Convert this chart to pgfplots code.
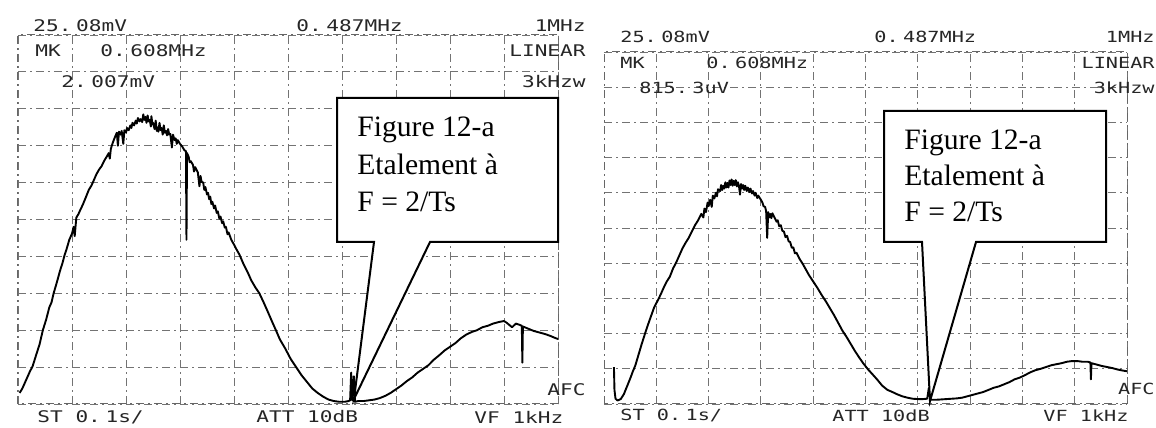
\documentclass[border=0pt]{standalone}
\usepackage{fontspec}
\usepackage{pgfplots}
\pgfplotsset{compat=1.18}
\setmainfont{Liberation Serif}
\newfontfamily\scopefont{DejaVu Sans Mono}
\newcommand\st[1]{\scalebox{1}[0.76]{#1}}
\newcommand\g{\hspace{0.22em}}
\pgfplotsset{
  scopegrid/.style={
    scale only axis, xmin=0, xmax=10, ymin=0, ymax=10,
    xtick={0,...,10}, ytick={0,...,10},
    xticklabels={}, yticklabels={},
    major tick length=0pt,
    grid=major,
    grid style={black!55, line width=0.45pt, dash pattern=on 4pt off 2pt on 1pt off 2pt},
    axis line style={black!60, line width=0.5pt, dash pattern=on 4pt off 2pt on 1pt off 2pt},
    clip=false,
  },
  trace/.style={black, line width=0.95pt, line join=round, mark=none},
}
\begin{document}
\begin{tikzpicture}
\useasboundingbox (0,0) rectangle (578pt,214pt);
% ---------------- left screen ----------------
\begin{axis}[scopegrid, at={(9pt,12pt)}, anchor=south west, width=270pt, height=184.5pt]
\addplot[trace] coordinates {
(0.03,0.30)(0.08,0.42)(0.15,0.65)(0.22,0.88)(0.27,1.02)(0.33,1.30)(0.40,1.62)(0.46,2.00)
(0.52,2.28)(0.58,2.62)(0.62,2.75)(0.66,3.00)(0.72,3.30)(0.78,3.62)(0.82,3.80)(0.86,4.02)
(0.90,4.20)(0.95,4.45)(1.00,4.62)(1.03,4.80)(1.05,4.55)(1.08,5.05)(1.12,5.15)(1.16,5.28)
(1.20,5.40)(1.25,5.58)(1.31,5.80)(1.36,5.92)(1.40,6.05)(1.45,6.22)(1.50,6.35)(1.55,6.45)
(1.60,6.60)(1.65,6.72)(1.68,6.80)(1.70,6.65)(1.72,6.92)(1.76,7.10)(1.80,7.25)(1.83,7.35)
(1.85,7.00)(1.87,7.38)(1.90,7.30)(1.92,7.40)(1.95,7.05)(1.97,7.42)(2.00,7.36)(2.02,7.48)
(2.05,7.42)(2.08,7.55)(2.10,7.48)(2.12,7.62)(2.15,7.55)(2.18,7.68)(2.20,7.60)(2.22,7.75)
(2.25,7.66)(2.27,7.72)(2.30,7.64)(2.32,7.85)(2.34,7.70)(2.36,7.78)(2.38,7.62)(2.40,7.82)
(2.42,7.66)(2.44,7.70)(2.46,7.52)(2.47,7.80)(2.49,7.58)(2.50,7.62)(2.53,7.45)(2.55,7.68)
(2.57,7.40)(2.58,7.50)(2.60,7.38)(2.62,7.62)(2.64,7.42)(2.66,7.48)(2.68,7.30)(2.70,7.55)
(2.72,7.35)(2.74,7.40)(2.76,7.28)(2.78,7.45)(2.80,7.30)(2.82,7.32)(2.85,6.95)(2.87,7.30)
(2.90,7.15)(2.92,7.20)(2.94,7.05)(2.96,7.15)(3.00,7.05)(3.04,6.98)(3.08,6.88)
(3.11,6.85)(3.12,4.45)(3.13,6.80)(3.16,6.70)(3.18,6.55)(3.20,6.58)(3.24,6.48)(3.26,6.30)
(3.28,6.42)(3.33,6.28)(3.36,5.90)(3.38,6.18)(3.40,6.02)(3.43,6.00)(3.45,5.80)(3.47,5.88)
(3.50,5.68)(3.52,5.72)(3.54,5.55)(3.56,5.62)(3.58,5.42)(3.60,5.48)(3.63,5.30)(3.65,5.38)
(3.68,5.18)(3.70,5.22)(3.73,5.02)(3.75,5.08)(3.78,4.90)(3.80,4.95)(3.83,4.78)(3.85,4.80)
(3.88,4.60)(3.90,4.65)(3.95,4.45)(4.00,4.32)(4.05,4.18)
(4.10,4.05)(4.18,3.78)(4.25,3.58)(4.32,3.35)(4.40,3.15)(4.47,3.00)(4.55,2.75)(4.62,2.52)
(4.70,2.25)(4.77,2.02)(4.85,1.75)(4.95,1.50)(5.05,1.22)(5.15,1.00)(5.25,0.78)(5.35,0.60)
(5.45,0.42)(5.55,0.30)(5.65,0.20)(5.75,0.12)(5.85,0.08)(5.95,0.06)(6.05,0.06)(6.12,0.08)
(6.15,0.10)(6.17,0.85)(6.19,0.10)(6.22,0.75)(6.24,0.06)(6.30,0.08)(6.40,0.08)(6.50,0.10)
(6.60,0.12)(6.70,0.16)(6.80,0.22)(6.90,0.30)(7.00,0.40)(7.10,0.50)(7.20,0.62)(7.30,0.72)
(7.40,0.85)(7.50,0.95)(7.60,1.05)(7.70,1.20)(7.80,1.32)(7.90,1.45)(8.00,1.55)(8.10,1.65)
(8.20,1.78)(8.30,1.88)(8.40,1.95)(8.50,2.00)(8.60,2.08)(8.70,2.12)(8.80,2.18)(8.90,2.22)
(9.00,2.25)(9.05,2.20)(9.10,2.14)(9.15,2.08)(9.22,2.18)(9.28,2.15)(9.33,2.12)(9.34,1.12)
(9.35,2.10)(9.45,2.04)(9.55,1.98)(9.65,1.94)(9.75,1.90)(9.85,1.85)(9.93,1.80)(10.0,1.76)
};
\end{axis}
% ---------------- right screen ----------------
\begin{axis}[scopegrid, at={(302pt,12pt)}, anchor=south west, width=261.5pt, height=176pt]
\addplot[trace] coordinates {
(0.19,1.05)(0.20,0.40)(0.22,0.15)(0.26,0.10)(0.32,0.14)(0.38,0.28)(0.44,0.50)(0.50,0.72)
(0.55,0.92)(0.60,1.10)(0.66,1.40)(0.72,1.70)(0.78,1.98)(0.84,2.25)(0.90,2.50)(0.96,2.75)
(1.02,2.92)(1.08,3.10)(1.14,3.30)(1.20,3.48)(1.26,3.62)(1.32,3.85)(1.38,4.02)(1.44,4.22)
(1.50,4.42)(1.56,4.58)(1.62,4.72)(1.68,4.90)(1.74,5.08)(1.80,5.22)(1.86,5.40)(1.90,5.30)
(1.92,5.55)(1.95,5.45)(1.98,5.72)(2.00,5.62)(2.03,5.80)(2.06,5.60)(2.08,5.92)(2.11,5.84)
(2.14,6.00)(2.16,5.90)(2.18,6.10)(2.22,6.05)(2.24,6.22)(2.26,6.08)(2.28,6.20)(2.30,6.12)
(2.32,6.30)(2.34,6.15)(2.36,6.28)(2.38,6.15)(2.40,6.35)(2.42,6.22)(2.44,6.38)(2.46,6.20)
(2.48,6.34)(2.50,6.22)(2.52,6.36)(2.54,6.18)(2.56,6.30)(2.58,6.20)(2.60,5.95)(2.62,6.25)
(2.64,6.12)(2.66,6.22)(2.68,6.08)(2.70,6.20)(2.73,6.05)(2.75,6.15)(2.78,6.02)(2.80,6.12)
(2.83,5.98)(2.85,6.05)(2.88,5.92)(2.90,6.00)(2.93,5.85)(2.95,5.92)(3.00,5.80)(3.03,5.72)
(3.05,5.62)(3.08,5.60)(3.10,5.48)(3.12,4.72)(3.14,5.45)(3.16,5.30)(3.18,5.40)(3.20,5.28)
(3.22,5.42)(3.26,5.30)(3.30,5.18)(3.32,5.22)(3.35,5.05)(3.38,5.08)(3.41,4.92)(3.44,4.90)
(3.47,4.74)(3.50,4.78)(3.53,4.62)(3.56,4.60)(3.59,4.44)(3.62,4.45)(3.65,4.28)
(3.68,4.30)(3.74,4.12)(3.80,3.98)(3.86,3.82)(3.92,3.66)(4.00,3.48)(4.08,3.30)(4.16,3.10)
(4.24,2.92)(4.32,2.72)(4.40,2.52)(4.48,2.30)(4.56,2.08)(4.64,1.90)(4.72,1.70)(4.80,1.50)
(4.88,1.32)(4.96,1.15)(5.05,0.98)(5.13,0.85)(5.22,0.70)(5.32,0.52)(5.42,0.40)(5.50,0.35)
(5.60,0.28)(5.70,0.22)(5.80,0.18)(5.90,0.15)(6.00,0.14)(6.10,0.14)(6.18,0.15)(6.21,0.45)
(6.24,0.12)(6.35,0.12)(6.45,0.13)(6.55,0.14)(6.65,0.15)(6.75,0.16)(6.85,0.18)(6.95,0.22)
(7.05,0.26)(7.15,0.30)(7.25,0.34)(7.35,0.40)(7.45,0.46)(7.55,0.50)(7.65,0.56)(7.75,0.62)
(7.85,0.70)(7.95,0.75)(8.05,0.82)(8.15,0.90)(8.25,0.96)(8.35,1.00)(8.45,1.05)(8.55,1.10)
(8.65,1.13)(8.75,1.16)(8.85,1.20)(8.95,1.22)(9.05,1.22)(9.15,1.20)(9.25,1.20)(9.30,1.18)
(9.31,0.70)(9.32,1.16)(9.42,1.12)(9.52,1.08)(9.62,1.05)(9.72,1.02)(9.82,0.98)(9.92,0.95)
(10.0,0.93)
};
\end{axis}
% ---------------- annotations (pixel coordinates, origin top-left) ----------------
\begin{scope}[x=0.5pt, y=-0.5pt, shift={(0,214pt)}]
  % callouts
  \draw[line width=1pt, fill=white] (337,98) -- (558,98) -- (558,242) -- (430,242) -- (354,399) -- (374,242) -- (337,242) -- cycle;
  \draw[line width=1pt, fill=white] (884,111) -- (1106,111) -- (1106,242) -- (976,242) -- (930,401) -- (922,242) -- (884,242) -- cycle;
  \begin{scope}[every node/.style={anchor=base west, inner sep=0pt, font=\fontsize{14.8pt}{16pt}\selectfont}]
    \node at (357,137) {Figure 12-a};
    \node at (357,175) {Etalement à};
    \node at (357,212) {F = 2/Ts};
    \node at (904,150) {Figure 12-a};
    \node at (904,186) {Etalement à};
    \node at (904,222) {F = 2/Ts};
  \end{scope}
  % screen texts, left
  \begin{scope}[every node/.style={inner sep=0pt, text=black!85, font=\scopefont\fontsize{10.55pt}{12pt}\selectfont}]
    \node[anchor=west] at (33,26) {\st{25.\g08mV}};
    \node[anchor=west] at (296,26) {\st{0.\g487MHz}};
    \node[anchor=east] at (586,26) {\st{1MHz}};
    \node[anchor=west] at (35,51) {\st{MK}};
    \node[anchor=west] at (100,51) {\st{0.\g608MHz}};
    \node[anchor=east] at (586,51) {\st{LINEAR}};
    \node[anchor=west] at (61,82) {\st{2.\g007mV}};
    \node[anchor=east] at (586,82) {\st{3kHzw}};
    \node[anchor=west] at (37,417) {\st{ST 0.\g1s/}};
    \node[anchor=west] at (256,417) {\st{ATT 10dB}};
    \node[anchor=west] at (474,417) {\st{VF 1kHz}};
    \node[anchor=east] at (586,390) {\st{AFC}};
  \end{scope}
  \begin{scope}[every node/.style={inner sep=0pt, text=black!85, font=\scopefont\fontsize{10.1pt}{12pt}\selectfont}]
    \node[anchor=west] at (620,37) {\st{25.\g08mV}};
    \node[anchor=west] at (874,37) {\st{0.\g487MHz}};
    \node[anchor=east] at (1155,37) {\st{1MHz}};
    \node[anchor=west] at (620,63) {\st{MK}};
    \node[anchor=west] at (706,63) {\st{0.\g608MHz}};
    \node[anchor=east] at (1155,63) {\st{LINEAR}};
    \node[anchor=west] at (639,88) {\st{815.\g3uV}};
    \node[anchor=east] at (1155,88) {\st{3kHzw}};
    \node[anchor=west] at (620,416) {\st{ST 0.\g1s/}};
    \node[anchor=west] at (832,416) {\st{ATT 10dB}};
    \node[anchor=west] at (1043,416) {\st{VF 1kHz}};
    \node[anchor=east] at (1155,389) {\st{AFC}};
  \end{scope}
\end{scope}
\end{tikzpicture}
\end{document}
